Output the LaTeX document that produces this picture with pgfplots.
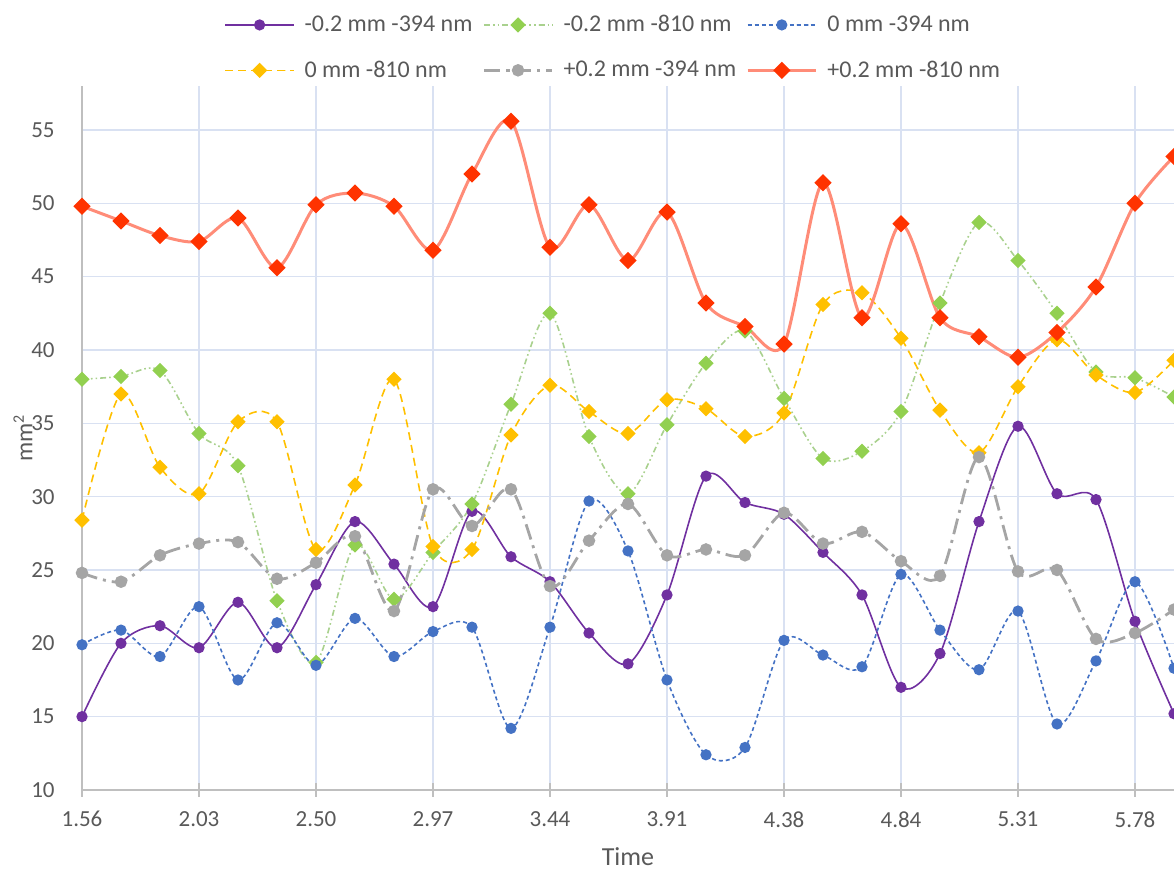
\documentclass[border=0pt]{standalone}
\usepackage{fontspec}
\setmainfont{Carlito}
\usepackage{pgfplots}
\usepackage{pgfplotstable}
\pgfplotsset{compat=1.18}
\definecolor{cpurple}{HTML}{7030A0}
\definecolor{cgreen}{HTML}{92D050}
\definecolor{cgreenl}{HTML}{A9D18E}
\definecolor{cblue}{HTML}{4472C4}
\definecolor{cgold}{HTML}{FFC000}
\definecolor{cgray}{HTML}{A5A5A5}
\definecolor{cred}{HTML}{FF3300}
\definecolor{csalmon}{HTML}{FF8C78}
\definecolor{gridc}{HTML}{D9E1F2}
\definecolor{axc}{HTML}{BFBFBF}
\definecolor{txt}{HTML}{595959}

\pgfplotstableread{
x A B C D E F
0 15.0 38.0 19.9 28.4 24.8 49.8
1 20.0 38.2 20.9 37.0 24.2 48.8
2 21.2 38.6 19.1 32.0 26.0 47.8
3 19.7 34.3 22.5 30.2 26.8 47.4
4 22.8 32.1 17.5 35.1 26.9 49.0
5 19.7 22.9 21.4 35.1 24.4 45.6
6 24.0 18.7 18.5 26.4 25.5 49.9
7 28.3 26.7 21.7 30.8 27.3 50.7
8 25.4 23.0 19.1 38.0 22.2 49.8
9 22.5 26.2 20.8 26.6 30.5 46.8
10 29.0 29.5 21.1 26.4 28.0 52.0
11 25.9 36.3 14.2 34.2 30.5 55.6
12 24.2 42.5 21.1 37.6 23.9 47.0
13 20.7 34.1 29.7 35.8 27.0 49.9
14 18.6 30.2 26.3 34.3 29.5 46.1
15 23.3 34.9 17.5 36.6 26.0 49.4
16 31.4 39.1 12.4 36.0 26.4 43.2
17 29.6 41.3 12.9 34.1 26.0 41.6
18 28.8 36.7 20.2 35.7 28.9 40.4
19 26.2 32.6 19.2 43.1 26.8 51.4
20 23.3 33.1 18.4 43.9 27.6 42.2
21 17.0 35.8 24.7 40.8 25.6 48.6
22 19.3 43.2 20.9 35.9 24.6 42.2
23 28.3 48.7 18.2 33.0 32.7 40.9
24 34.8 46.1 22.2 37.5 24.9 39.5
25 30.2 42.5 14.5 40.7 25.0 41.2
26 29.8 38.5 18.8 38.3 20.3 44.3
27 21.5 38.1 24.2 37.1 20.7 50.0
28 15.2 36.8 18.3 39.3 22.3 53.2
}\datatable

\begin{document}
\begin{tikzpicture}
\path[use as bounding box] (0,0) rectangle (587pt,435pt);
\begin{axis}[
  at={(41pt,40pt)}, anchor=south west,
  scale only axis, width=546pt, height=352pt,
  xmin=0, xmax=28, ymin=10, ymax=58,
  xtick={0,3,...,27},
  xticklabels={1.56,2.03,2.50,2.97,3.44,3.91,4.38,4.84,5.31,5.78},
  ytick={10,15,...,55},
  axis x line*=bottom, axis y line*=left,
  axis line style={draw=axc, line width=1.1pt, -},
  grid=major,
  major grid style={draw=gridc, line width=0.6pt},
  tick align=center,
  x tick style={draw=axc, line width=1pt},
  major tick length=7pt,
  y tick style={draw=none},
  /pgf/number format/assume math mode=true,
  tick label style={font=\fontsize{11.5}{13}\selectfont, text=txt},
  yticklabel style={anchor=east, inner sep=0pt, xshift=-10pt},
  xticklabel style={anchor=north, inner sep=0pt, yshift=-7pt},
  xlabel={Time},
  ylabel={mm\textsuperscript{2}},
  xlabel style={font=\fontsize{13}{15}\selectfont, text=txt, at={(axis description cs:0.5,-0.094)}, anchor=center},
  ylabel style={font=\fontsize{12}{14}\selectfont, text=txt, at={(axis description cs:-0.0541,0.5)}, anchor=center},
  legend columns=3,
  legend cell align=left,
  legend style={at={(0.4875,1.0545)}, anchor=center, draw=none, fill=none,
    font=\fontsize{12}{14}\selectfont, text=txt, row sep=9pt,
    /tikz/every odd column/.append style={column sep=3pt},
    /tikz/every even column/.append style={column sep=3pt}},
  legend image code/.code={\draw[mark repeat=2,mark phase=2] plot coordinates {(0cm,0cm) (0.6cm,0cm) (1.2cm,0cm)};},
  every axis plot/.append style={smooth},
]
\addplot[cpurple, line width=0.8pt, mark=*, mark size=2.4pt, mark options={solid, fill=cpurple, draw=cpurple}] table[x=x,y=A] {\datatable};
\addlegendentry{-0.2 mm -394 nm}
\addplot[cgreenl, line width=0.8pt, dash pattern=on 3pt off 1.5pt on 0.8pt off 1.5pt on 0.8pt off 1.5pt, mark=square*, mark size=2.3pt, mark options={solid, rotate=45, fill=cgreen, draw=cgreen}] table[x=x,y=B] {\datatable};
\addlegendentry{-0.2 mm -810 nm}
\addplot[cblue, line width=0.8pt, dash pattern=on 2pt off 1.5pt, mark=*, mark size=2.4pt, mark options={solid, fill=cblue, draw=cblue}] table[x=x,y=C] {\datatable};
\addlegendentry{0 mm -394 nm}
\addplot[cgold, line width=0.8pt, dash pattern=on 4pt off 2.5pt, mark=square*, mark size=2.3pt, mark options={solid, rotate=45, fill=cgold, draw=cgold}] table[x=x,y=D] {\datatable};
\addlegendentry{0 mm -810 nm}
\addplot[cgray, line width=1.4pt, dash pattern=on 8pt off 3pt on 1.5pt off 3pt, mark=*, mark size=2.4pt, mark options={solid, fill=cgray, draw=cgray}] table[x=x,y=E] {\datatable};
\addlegendentry{+0.2 mm -394 nm}
\addplot[csalmon, line width=1.5pt, mark=square*, mark size=2.3pt, mark options={solid, rotate=45, fill=cred, draw=cred}] table[x=x,y=F] {\datatable};
\addlegendentry{+0.2 mm -810 nm}
\end{axis}
\end{tikzpicture}
\end{document}
